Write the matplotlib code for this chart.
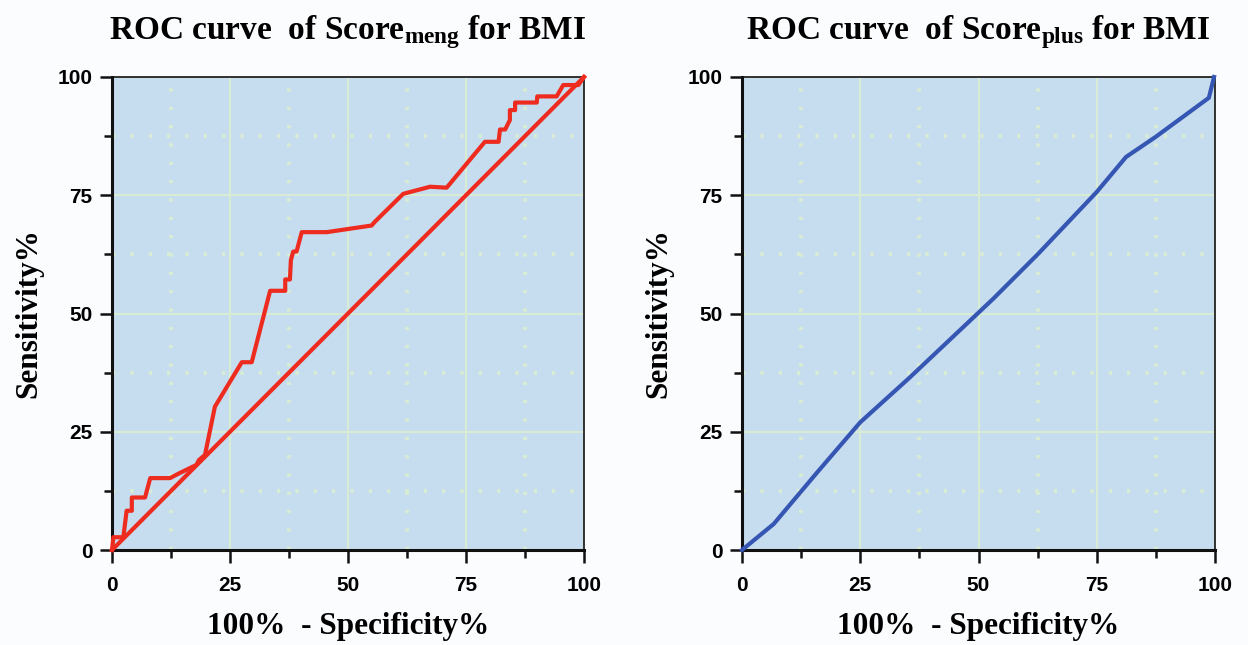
import matplotlib
matplotlib.use("Agg")
import matplotlib.pyplot as plt
from matplotlib.ticker import MultipleLocator

plt.rcParams['mathtext.fontset'] = 'custom'
plt.rcParams['mathtext.rm'] = 'Liberation Serif:bold'
plt.rcParams['mathtext.it'] = 'Liberation Serif:bold'
plt.rcParams['mathtext.bf'] = 'Liberation Serif:bold'

# ---- data ----
meng_fpr = [0, 0.3, 2.4, 3.1, 4.2, 4.2, 7.0, 8.1, 12.3, 14.4, 17.9, 18.4, 19.7,
            21.8, 27.5, 29.6, 33.5, 36.7, 36.7, 37.7, 37.9, 38.4, 39.1, 40.2,
            45.5, 55.0, 55.7, 61.7, 67.4, 70.9, 79.0, 81.9, 82.2, 83.3, 84.3,
            84.3, 85.4, 85.4, 90.0, 90.1, 94.2, 95.6, 98.8, 100]
meng_tpr = [0, 2.7, 2.7, 8.3, 8.3, 11.1, 11.1, 15.2, 15.2, 16.3, 18.0, 19.0, 20.1,
            30.3, 39.7, 39.7, 54.8, 54.8, 57.2, 57.2, 61.3, 63.1, 63.1, 67.2,
            67.2, 68.6, 69.4, 75.3, 76.8, 76.6, 86.3, 86.3, 88.9, 88.9, 90.9,
            93.0, 93.0, 94.6, 94.6, 95.9, 95.9, 98.3, 98.3, 100]
ref_line = [0, 100]

plus_fpr = [0, 6.7, 15.8, 25.0, 35.5, 53.1, 62.6, 75.0, 81.2, 87.4, 98.7, 99.8]
plus_tpr = [0, 5.5, 16.3, 27.0, 36.5, 53.1, 62.6, 75.7, 83.1, 87.3, 95.6, 100]

ticks = [0, 25, 50, 75, 100]
tick_labels = ["0", "25", "50", "75", "100"]
titles = [r"ROC curve  of Score$_{\rm meng}$ for BMI",
          r"ROC curve  of Score$_{\rm plus}$ for BMI"]
xlabel = "100%  - Specificity%"
ylabel = "Sensitivity%"

W, H = 1248, 645
fig = plt.figure(figsize=(W / 100, H / 100), dpi=100, facecolor="#fbfcfe")

axes_px = [(112, 584), (742, 1215)]
top_px, bot_px = 77, 550
axes = []
for (l, r) in axes_px:
    ax = fig.add_axes([l / W, (H - bot_px) / H, (r - l) / W, (bot_px - top_px) / H])
    axes.append(ax)

bg = "#c6dcef"
grid_col = "#d8ebd4"
for ax, title in zip(axes, titles):
    ax.set_facecolor(bg)
    ax.set_xlim(0, 100)
    ax.set_ylim(0, 100)
    ax.xaxis.set_minor_locator(MultipleLocator(12.5))
    ax.yaxis.set_minor_locator(MultipleLocator(12.5))
    ax.set_xticks(ticks)
    ax.set_xticklabels(tick_labels)
    ax.set_yticks(ticks)
    ax.set_yticklabels(tick_labels)
    ax.grid(which="major", color=grid_col, linewidth=1.6, linestyle="-", zorder=0)
    ax.grid(which="minor", color=grid_col, linewidth=3.0, linestyle=(0, (0.8, 3.6)), zorder=0)
    ax.set_axisbelow(True)
    ax.tick_params(which="major", direction="out", length=9, width=1.8, color="#111111",
                   labelsize=15, pad=5)
    ax.tick_params(axis="x", which="major", pad=10)
    ax.tick_params(which="minor", direction="out", length=6, width=1.8, color="#111111")
    for lab in ax.get_xticklabels() + ax.get_yticklabels():
        lab.set_fontfamily("Liberation Sans")
        lab.set_fontweight("bold")
    ax.spines["left"].set_linewidth(2.2)
    ax.spines["bottom"].set_linewidth(2.2)
    ax.spines["top"].set_linewidth(1.2)
    ax.spines["right"].set_linewidth(1.2)
    for s in ax.spines.values():
        s.set_color("#111111")
    ax.set_title(title, fontfamily="Liberation Serif", fontweight="bold",
                 fontsize=24, pad=27)
    ax.set_xlabel(xlabel, fontfamily="Liberation Serif", fontweight="bold",
                  fontsize=22.5, labelpad=12)
    ax.set_ylabel(ylabel, fontfamily="Liberation Serif", fontweight="bold",
                  fontsize=22.5, labelpad=10)

ax1, ax2 = axes
ax1.plot(meng_fpr, meng_tpr, color="#ee2b1f", linewidth=3.0, clip_on=False, zorder=3)
ax1.plot(ref_line, ref_line, color="#ee2b1f", linewidth=3.0, clip_on=False, zorder=3)
ax2.plot(plus_fpr, plus_tpr, color="#3656b3", linewidth=3.0, clip_on=False, zorder=3)

fig.savefig("out.png", dpi=100, facecolor=fig.get_facecolor())
